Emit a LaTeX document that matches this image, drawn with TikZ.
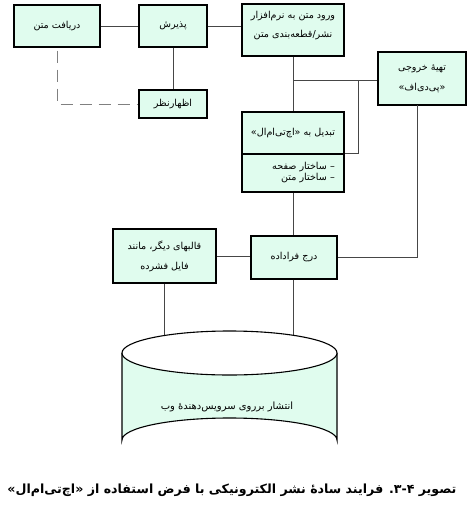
\documentclass[tikz,border=0pt]{standalone}
\usepackage{fontspec}
\TeXXeTstate=1
\newfontfamily\fa[Script=Arabic]{DejaVu Sans}
\usetikzlibrary{calc}
\definecolor{boxfill}{RGB}{224,252,238}
\definecolor{lineg}{RGB}{70,70,70}
\newcommand{\rl}[1]{\beginR #1\endR}
\tikzset{
  box/.style={draw=black, line width=1.1pt, fill=boxfill, inner sep=0pt,
    font=\fa\fontsize{9.6}{20}\selectfont, align=center},
  boxtext/.style={inner sep=0pt, font=\fa\fontsize{9.6}{20}\selectfont, align=center},
  conn/.style={draw=lineg, line width=0.9pt},
  dashconn/.style={draw=gray, line width=1pt, dash pattern=on 12pt off 7pt}
}
\begin{document}
\begin{tikzpicture}[x=1pt,y=-1pt]
\useasboundingbox (0,0) rectangle (470,512);
% boxes
\node[box, minimum width=86pt, minimum height=42pt] (darya) at (57,26) {\rl{دریافت متن}};
\node[box, minimum width=68pt, minimum height=42pt] (pazir) at (173,26) {\rl{پذیرش}};
\node[box, minimum width=68pt, minimum height=28pt] (ezhar) at (173,104) {\rl{اظهارنظر}};
\node[box, minimum width=102pt, minimum height=52pt] (vorud) at (293,30) {};
\node[boxtext] (vorudt) at (293,26) {\rl{ورود متن به نرم‌افزار}\\[-1pt]\rl{نشر\kern0pt/\kern0pt قطعه‌بندی متن}};
\node[box, minimum width=88pt, minimum height=53pt] (tahie) at (422,78.5) {\rl{تهیهٔ خروجی}\\\rl{«پی‌دی‌اف»}};
\node[box, minimum width=102pt, minimum height=42pt] (tabA) at (293,133) {\rl{تبدیل به  «اچ‌تی‌ام‌ال»}};
\node[box, minimum width=102pt, minimum height=38pt] (tabB) at (293,173) {};
\node[font=\fa\fontsize{9.6}{11}\selectfont, align=right, anchor=east, inner sep=0pt] (tabBt) at (335,172.5) {\rl{– ساختار صفحه}\\\rl{– ساختار متن}};
\node[box, minimum width=86pt, minimum height=43pt] (darj) at (294,257.5) {\rl{درج فراداده}};
\node[box, minimum width=103pt, minimum height=54pt] (qalab) at (164.5,256) {\rl{قالبهای دیگر، مانند}\\\rl{فایل فشرده}};
% junctions
\coordinate (ct) at (229.5,353);
\coordinate (j1) at (293,80);
\coordinate (j2) at (358,80);
\coordinate (tsd) at (417,105);
% connectors
\draw[conn] (darya.east) -- (pazir.west);
\draw[conn] (pazir.east) -- (pazir.east -| vorud.west);
\draw[conn] (pazir.south) -- (ezhar.north);
\draw[dashconn] ([yshift=-3pt]darya.south) -- (darya.south |- ezhar.west) -- (ezhar.west);
\draw[conn] (vorud.south) -- (tabA.north);
\draw[conn] (j1) -- (j1 -| tahie.west);
\draw[conn] (j2) -- (j2 |- tabB.north) -- (tabB.north east);
\draw[conn] (tabB.south) -- (tabB.south |- darj.north);
\draw[conn] (tsd) -- (tsd |- darj.east) -- (darj.east);
\draw[conn] (qalab.east) -- (qalab.east -| darj.west);
\draw[conn] (qalab.south) -- (qalab.south |- ct);
\draw[conn] (293,0 |- darj.south) -- (293,353);
% cylinder
\fill[boxfill] (122,353) -- (122,440) arc[start angle=180, end angle=360, x radius=107.5, y radius=22] -- (337,353) -- cycle;
\draw[line width=1.1pt] (122,353) -- (122,440) arc[start angle=180, end angle=360, x radius=107.5, y radius=22] -- (337,353);
\draw[line width=1.1pt, fill=white] (ct) ellipse[x radius=107.5, y radius=22];
\node[font=\fa\fontsize{10}{11}\selectfont, inner sep=0pt] (cyltext) at (227,407) {\rl{انتشار برروی سرویس‌دهندهٔ وب}};
% caption
\node[font=\fa\bfseries\fontsize{12.6}{14}\selectfont, inner sep=0pt] (caption) at (232,490) {\rl{تصویر \beginL۳-۴\endL. فرایند سادهٔ نشر الکترونیکی با فرض استفاده از «اچ‌تی‌ام‌ال»}};
\end{tikzpicture}
\end{document}
